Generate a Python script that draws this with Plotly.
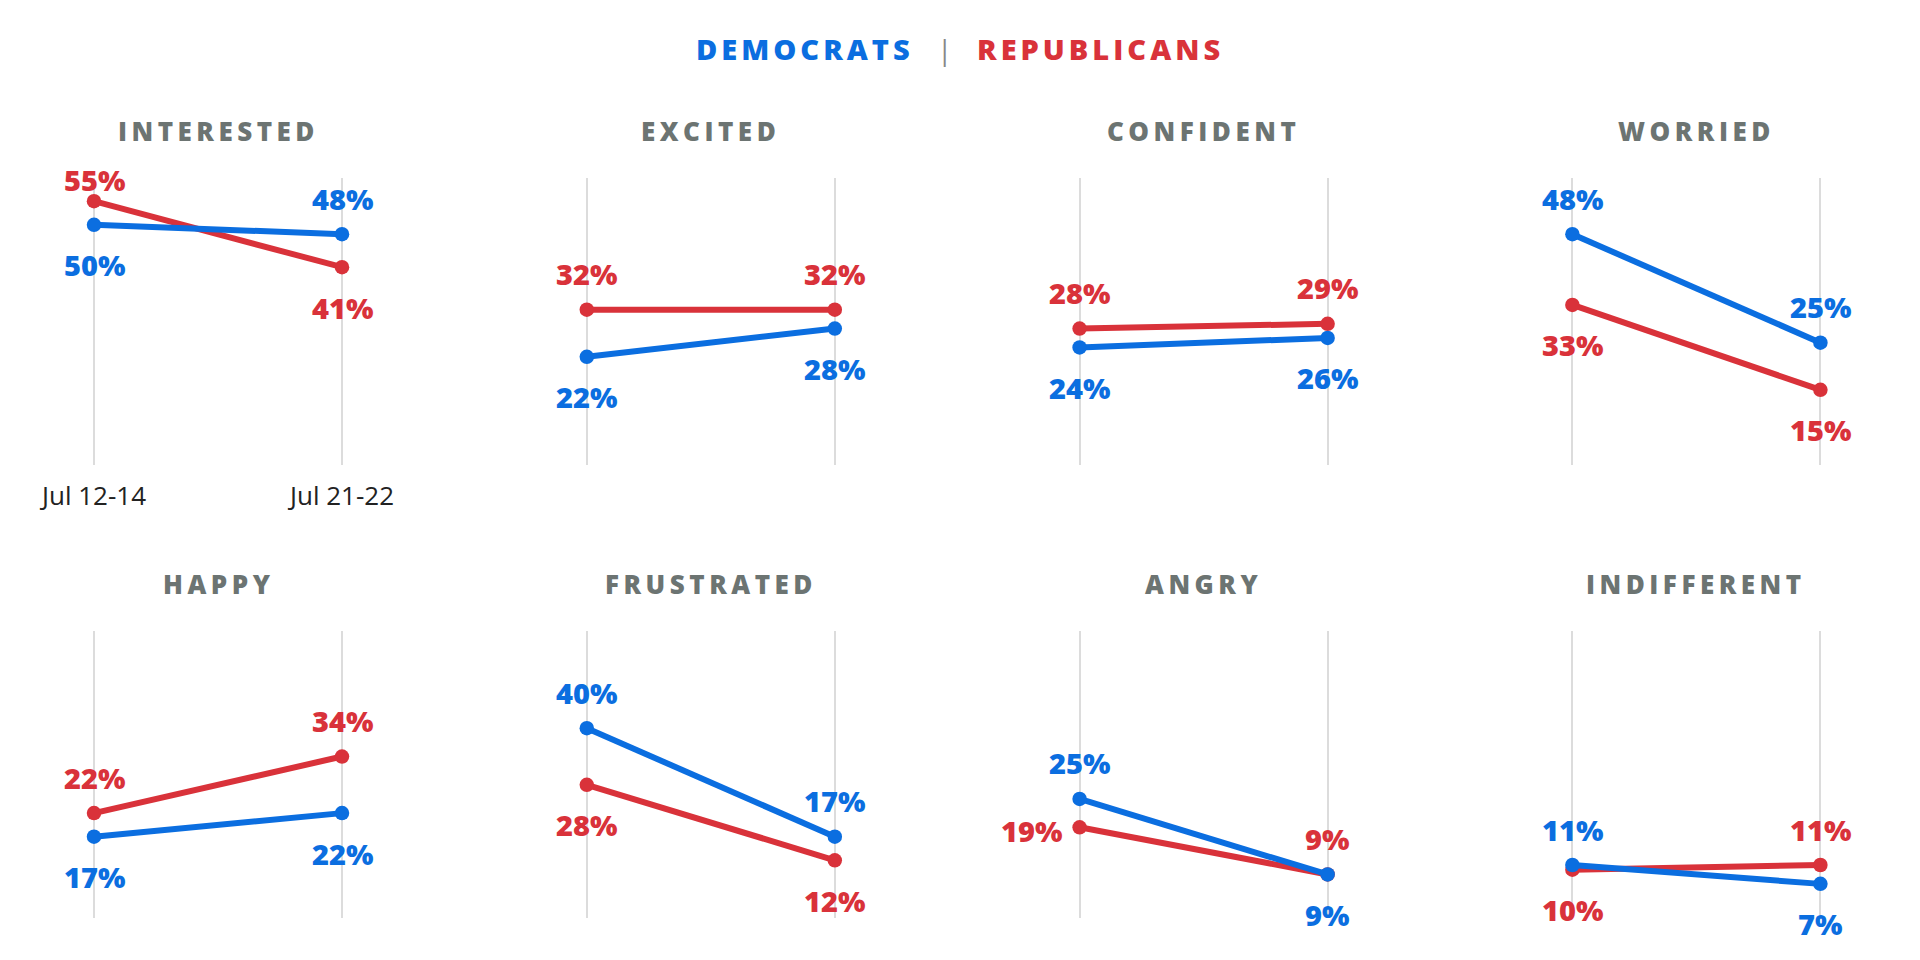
import plotly.graph_objects as go

# ---------------- data ----------------
emotions = ["INTERESTED", "EXCITED", "CONFIDENT", "WORRIED",
            "HAPPY", "FRUSTRATED", "ANGRY", "INDIFFERENT"]
dates = ["Jul 12-14", "Jul 21-22"]
dem_values = [[50, 48], [22, 28], [24, 26], [48, 25],
              [17, 22], [40, 17], [25, 9], [11, 7]]
rep_values = [[55, 41], [32, 32], [28, 29], [33, 15],
              [22, 34], [28, 12], [19, 9], [10, 11]]
legend_labels = ["DEMOCRATS", "REPUBLICANS"]

# ---------------- style ----------------
BLUE = "#0b6ee0"
RED = "#d9323a"
TITLE_GRAY = "#6c7472"
GRID = "#dcdcdc"
W, H = 1920, 960
FONT = "Open Sans"

COL_LEFT0, COL_STEP, COL_SPAN = 94.0, 492.8, 248.0
ROW_TOP = [177.6, 630.6]
ROW_H = 287.7
XPAD = 0.3
ROW_Y_RANGE = [[-1, 60], [-0.3, 60.7]]

# label placement exceptions (style only)
label_side_override = {(6, "R", 0): "left"}


def spaced(txt, px):
    return f"<span style='letter-spacing:{px}px'>{txt}</span>"


fig = go.Figure()
annotations = []
layout_axes = {}

for k, emo in enumerate(emotions):
    col, row = k % 4, k // 4
    left = COL_LEFT0 + col * COL_STEP
    x0 = (left - XPAD * COL_SPAN) / W
    x1 = (left + (1 + XPAD) * COL_SPAN) / W
    top = ROW_TOP[row]
    y0 = 1 - (top + ROW_H) / H
    y1 = 1 - top / H
    yr = ROW_Y_RANGE[row]
    ppu = ROW_H / (yr[1] - yr[0])
    sfx = "" if k == 0 else str(k + 1)
    xa, ya = "x" + sfx, "y" + sfx

    layout_axes["xaxis" + sfx] = dict(
        domain=[x0, x1], anchor=ya, range=[-XPAD, 1 + XPAD],
        tickvals=[0, 1], ticktext=dates, showgrid=True, gridcolor=GRID,
        gridwidth=2, zeroline=False, showline=False, ticks="",
        showticklabels=(k == 0), ticklabelstandoff=13,
        tickfont=dict(family=FONT, size=26, color="#222222"), fixedrange=True)
    layout_axes["yaxis" + sfx] = dict(
        domain=[y0, y1], anchor=xa, range=yr, showgrid=False,
        zeroline=False, showline=False, showticklabels=False, fixedrange=True)

    d, r = dem_values[k], rep_values[k]
    for party, vals, color in (("R", r, RED), ("D", d, BLUE)):
        fig.add_trace(go.Scatter(
            x=[0, 1], y=vals, xaxis=xa, yaxis=ya, mode="lines+markers",
            line=dict(color=color, width=6), marker=dict(color=color, size=14.5),
            cliponaxis=False, showlegend=False, hoverinfo="skip"))

    # value labels
    for i in range(2):
        for party, vals, other, color in (("D", d, r, BLUE), ("R", r, d, RED)):
            v = vals[i]
            o = other[i]
            if v > o or (v == o and party == "R"):
                side = "above"
            else:
                side = "below"
            side = label_side_override.get((k, party, i), side)
            ann = dict(x=i, y=v, xref=xa, yref=ya, text=f"{v}%", showarrow=False,
                       font=dict(family=FONT, size=29, color=color, weight=800),
                       yanchor="middle", xanchor="center")
            if side == "above":
                ann["yshift"] = min(36, (yr[1] - v) * ppu - 2)
            elif side == "below":
                ann["yshift"] = -40
            else:
                ann["xanchor"] = "right"
                ann["xshift"] = -16
                ann["yshift"] = -3
            annotations.append(ann)

    # panel title
    annotations.append(dict(
        x=(left + COL_SPAN / 2) / W, y=1 - (131 if row == 0 else 584) / H,
        xref="paper", yref="paper", text=spaced(emo, 4.5), showarrow=False,
        font=dict(family=FONT, size=26, color=TITLE_GRAY, weight=800),
        xanchor="center", yanchor="middle"))

# legend title
annotations.append(dict(x=916 / W, y=1 - 49 / H, xref="paper", yref="paper",
                        text=spaced(legend_labels[0], 4), showarrow=False,
                        xanchor="right", yanchor="middle",
                        font=dict(family=FONT, size=29, color=BLUE, weight=800)))
annotations.append(dict(x=944 / W, y=1 - 49 / H, xref="paper", yref="paper",
                        text="|", showarrow=False, xanchor="center", yanchor="middle",
                        font=dict(family=FONT, size=28, color="#888888")))
annotations.append(dict(x=975 / W, y=1 - 49 / H, xref="paper", yref="paper",
                        text=spaced(legend_labels[1], 4), showarrow=False,
                        xanchor="left", yanchor="middle",
                        font=dict(family=FONT, size=29, color=RED, weight=800)))

fig.update_layout(width=W, height=H, margin=dict(l=0, r=0, t=0, b=0),
                  paper_bgcolor="white", plot_bgcolor="white",
                  annotations=annotations, showlegend=False, **layout_axes)

fig.write_html("out.html", config={"displayModeBar": False},
               post_script="document.body.style.margin='0px';"
                           "document.body.style.overflow='hidden';")
